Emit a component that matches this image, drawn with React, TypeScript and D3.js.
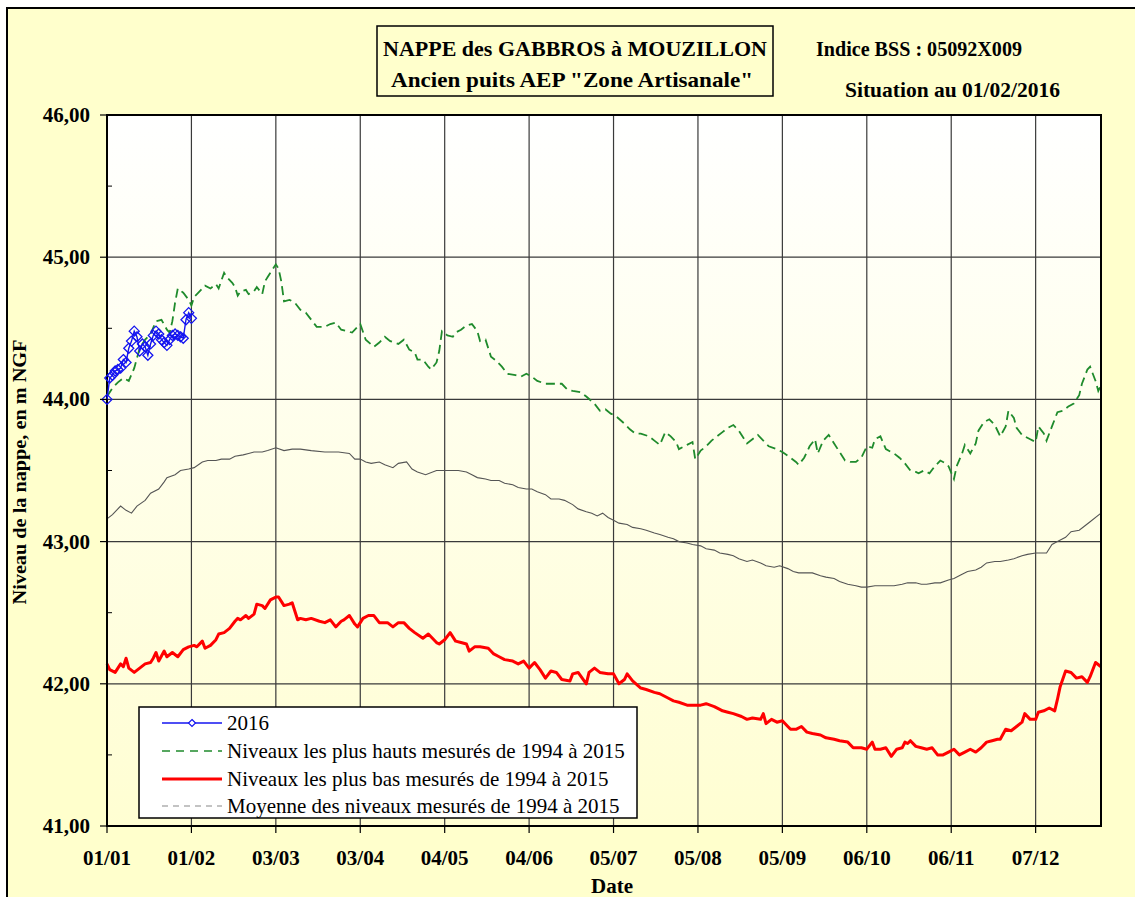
import React from "react";
import * as d3 from "d3";

// ---- DATA (day offset from 01/01/2016, level in m NGF) ----
const YEAR_START = new Date(2016, 0, 1);
const YEAR_END = new Date(2016, 11, 31);

const SERIES_2016: [number, number][] = [
  [0, 44.0], [1, 44.15], [2, 44.17], [3, 44.2], [4, 44.21], [5, 44.22], [6, 44.28], [7, 44.26],
  [8, 44.36], [9, 44.41], [10, 44.48], [11, 44.44], [12, 44.34], [13, 44.39], [14, 44.37], [15, 44.31],
  [16, 44.39], [17, 44.45], [18, 44.48], [19, 44.46], [20, 44.42], [21, 44.4], [22, 44.38], [23, 44.42],
  [24, 44.45], [25, 44.46], [26, 44.45], [27, 44.44], [28, 44.43], [29, 44.56], [30, 44.61], [31, 44.57],
];

const MAX_LEVELS: [number, number][] = [
  [0, 44.02], [2, 44.08], [4, 44.12], [6, 44.15], [8, 44.13], [10, 44.22], [12, 44.36], [14, 44.42],
  [16, 44.46], [18, 44.55], [20, 44.56], [22, 44.49], [23, 44.47], [24, 44.55], [25, 44.68], [26, 44.78],
  [28, 44.75], [30, 44.7], [31, 44.66], [32, 44.72], [34, 44.76], [36, 44.8], [38, 44.78], [40, 44.81],
  [41, 44.78], [43, 44.89], [44, 44.86], [46, 44.82], [47, 44.79], [48, 44.73], [49, 44.76], [51, 44.77],
  [52, 44.74], [54, 44.76], [55, 44.79], [57, 44.74], [58, 44.83], [59, 44.86], [60, 44.89], [62, 44.95],
  [63, 44.92], [64, 44.83], [65, 44.69], [67, 44.7], [69, 44.68], [71, 44.63], [73, 44.61], [75, 44.56],
  [77, 44.51], [80, 44.51], [82, 44.53], [84, 44.54], [86, 44.49], [88, 44.48], [90, 44.47], [93, 44.53],
  [95, 44.42], [98, 44.37], [100, 44.4], [102, 44.44], [104, 44.41], [107, 44.39], [109, 44.42], [111, 44.35],
  [113, 44.33], [114, 44.28], [116, 44.28], [118, 44.23], [119, 44.21], [121, 44.26], [122, 44.34], [123, 44.48],
  [125, 44.45], [127, 44.44], [128, 44.47], [130, 44.49], [132, 44.52], [134, 44.53], [136, 44.48], [137, 44.41],
  [139, 44.42], [141, 44.3], [143, 44.27], [145, 44.23], [147, 44.18], [150, 44.17], [152, 44.16], [154, 44.18],
  [156, 44.16], [158, 44.13], [161, 44.11], [164, 44.11], [167, 44.11], [169, 44.07], [171, 44.06], [174, 44.05],
  [176, 44.02], [179, 43.97], [181, 43.92], [183, 43.93], [185, 43.9], [187, 43.88], [190, 43.83], [192, 43.79],
  [194, 43.76], [196, 43.76], [199, 43.74], [201, 43.71], [203, 43.68], [205, 43.77], [207, 43.74], [209, 43.7],
  [210, 43.65], [213, 43.68], [215, 43.7], [216, 43.58], [218, 43.64], [220, 43.67], [222, 43.71], [224, 43.74],
  [226, 43.77], [228, 43.8], [230, 43.82], [232, 43.78], [234, 43.72], [235, 43.69], [237, 43.72], [239, 43.75],
  [241, 43.71], [243, 43.67], [246, 43.65], [248, 43.63], [251, 43.59], [253, 43.56], [254, 43.54], [256, 43.59],
  [258, 43.67], [260, 43.72], [261, 43.62], [263, 43.71], [265, 43.75], [267, 43.69], [269, 43.63], [271, 43.57],
  [273, 43.56], [275, 43.56], [277, 43.59], [279, 43.67], [281, 43.66], [282, 43.72], [284, 43.74], [286, 43.65],
  [289, 43.62], [291, 43.59], [293, 43.55], [295, 43.5], [297, 43.49], [298, 43.48], [300, 43.5], [302, 43.48],
  [304, 43.53], [306, 43.57], [308, 43.55], [309, 43.53], [311, 43.44], [312, 43.53], [314, 43.62], [315, 43.68],
  [317, 43.62], [319, 43.69], [320, 43.78], [322, 43.84], [324, 43.86], [326, 43.82], [328, 43.74], [330, 43.81],
  [331, 43.92], [333, 43.87], [334, 43.8], [336, 43.75], [339, 43.72], [341, 43.7], [342, 43.81], [344, 43.76],
  [345, 43.71], [347, 43.81], [349, 43.91], [351, 43.92], [353, 43.95], [355, 43.97], [357, 44.03], [358, 44.11],
  [360, 44.21], [361, 44.23], [363, 44.13], [364, 44.06], [365, 44.1],
];

const MIN_LEVELS: [number, number][] = [
  [0, 42.14], [1, 42.1], [3, 42.08], [5, 42.14], [6, 42.12], [7, 42.18], [8, 42.11], [10, 42.08],
  [12, 42.11], [14, 42.14], [16, 42.15], [17, 42.18], [18, 42.22], [19, 42.16], [21, 42.23], [22, 42.19],
  [24, 42.22], [26, 42.19], [28, 42.24], [30, 42.26], [32, 42.27], [33, 42.26], [35, 42.3], [36, 42.25],
  [38, 42.27], [40, 42.31], [41, 42.35], [43, 42.36], [45, 42.39], [47, 42.44], [48, 42.46], [49, 42.45],
  [51, 42.48], [52, 42.46], [54, 42.49], [55, 42.56], [57, 42.55], [58, 42.53], [60, 42.59], [62, 42.61],
  [63, 42.61], [65, 42.55], [67, 42.56], [68, 42.57], [70, 42.45], [71, 42.46], [73, 42.45], [75, 42.46],
  [78, 42.44], [80, 42.43], [82, 42.45], [84, 42.4], [86, 42.44], [87, 42.45], [89, 42.48], [91, 42.42],
  [92, 42.4], [94, 42.46], [96, 42.48], [98, 42.48], [100, 42.43], [103, 42.43], [105, 42.4], [107, 42.43],
  [109, 42.43], [111, 42.39], [113, 42.36], [116, 42.32], [118, 42.35], [121, 42.29], [122, 42.28], [124, 42.31],
  [126, 42.36], [128, 42.3], [130, 42.29], [132, 42.28], [133, 42.23], [135, 42.26], [137, 42.26], [140, 42.25],
  [142, 42.21], [144, 42.19], [146, 42.17], [149, 42.16], [151, 42.14], [153, 42.16], [155, 42.11], [157, 42.15],
  [159, 42.1], [161, 42.04], [163, 42.09], [165, 42.08], [167, 42.03], [170, 42.02], [171, 42.07], [173, 42.08],
  [176, 42.0], [177, 42.08], [179, 42.11], [181, 42.08], [184, 42.07], [186, 42.07], [188, 42.0], [190, 42.03],
  [191, 42.07], [193, 42.02], [196, 41.97], [198, 41.96], [201, 41.94], [203, 41.93], [206, 41.9], [208, 41.88],
  [210, 41.87], [213, 41.85], [215, 41.85], [218, 41.85], [220, 41.86], [223, 41.84], [225, 41.82], [226, 41.81],
  [228, 41.8], [230, 41.79], [233, 41.77], [235, 41.75], [237, 41.76], [240, 41.75], [241, 41.79], [242, 41.72],
  [244, 41.75], [246, 41.73], [248, 41.74], [250, 41.7], [251, 41.68], [253, 41.68], [255, 41.7], [257, 41.66],
  [259, 41.65], [262, 41.64], [264, 41.62], [267, 41.61], [269, 41.6], [272, 41.59], [274, 41.55], [277, 41.55],
  [279, 41.54], [281, 41.59], [282, 41.54], [284, 41.54], [286, 41.55], [288, 41.49], [290, 41.54], [292, 41.55],
  [293, 41.59], [294, 41.58], [295, 41.6], [297, 41.56], [299, 41.55], [301, 41.54], [303, 41.55], [305, 41.5],
  [307, 41.5], [309, 41.52], [311, 41.54], [313, 41.5], [315, 41.52], [317, 41.54], [319, 41.52], [321, 41.55],
  [323, 41.59], [325, 41.6], [327, 41.61], [328, 41.61], [330, 41.68], [332, 41.67], [334, 41.7], [336, 41.73],
  [337, 41.79], [339, 41.75], [341, 41.75], [342, 41.8], [344, 41.81], [346, 41.83], [348, 41.81], [349, 41.89],
  [350, 41.98], [352, 42.09], [354, 42.08], [356, 42.04], [358, 42.05], [360, 42.01], [361, 42.05], [363, 42.15],
  [365, 42.12],
];

const MEAN_LEVELS: [number, number][] = [
  [0, 43.16], [2, 43.19], [5, 43.25], [7, 43.22], [9, 43.2], [11, 43.25], [14, 43.29], [16, 43.34],
  [19, 43.37], [21, 43.42], [22, 43.45], [25, 43.47], [27, 43.5], [30, 43.51], [32, 43.52], [35, 43.56],
  [37, 43.57], [40, 43.57], [42, 43.58], [45, 43.58], [47, 43.6], [50, 43.61], [52, 43.62], [54, 43.63],
  [57, 43.63], [59, 43.64], [62, 43.66], [65, 43.64], [68, 43.65], [71, 43.65], [75, 43.64], [80, 43.63],
  [85, 43.63], [89, 43.62], [91, 43.58], [93, 43.58], [95, 43.56], [97, 43.55], [100, 43.56], [102, 43.54],
  [105, 43.52], [107, 43.55], [110, 43.56], [112, 43.51], [114, 43.49], [117, 43.47], [121, 43.5], [123, 43.5],
  [127, 43.5], [129, 43.5], [132, 43.49], [134, 43.47], [136, 43.45], [139, 43.44], [141, 43.43], [144, 43.43],
  [146, 43.41], [149, 43.4], [151, 43.38], [154, 43.37], [156, 43.37], [158, 43.35], [161, 43.33], [163, 43.3],
  [166, 43.3], [168, 43.29], [171, 43.26], [173, 43.23], [176, 43.21], [178, 43.2], [180, 43.18], [182, 43.2],
  [184, 43.17], [186, 43.15], [188, 43.13], [191, 43.12], [193, 43.1], [196, 43.09], [198, 43.08], [201, 43.06],
  [203, 43.05], [206, 43.03], [208, 43.02], [210, 43.0], [213, 42.99], [215, 42.98], [218, 42.97], [220, 42.95],
  [223, 42.94], [225, 42.92], [228, 42.91], [230, 42.9], [232, 42.88], [235, 42.86], [237, 42.87], [240, 42.85],
  [242, 42.83], [245, 42.82], [247, 42.83], [250, 42.81], [252, 42.79], [254, 42.78], [257, 42.78], [259, 42.78],
  [262, 42.76], [264, 42.75], [267, 42.74], [269, 42.72], [272, 42.7], [275, 42.69], [277, 42.68], [279, 42.68],
  [282, 42.69], [284, 42.69], [287, 42.69], [289, 42.69], [292, 42.7], [294, 42.71], [297, 42.71], [299, 42.7],
  [301, 42.7], [304, 42.71], [306, 42.71], [309, 42.73], [311, 42.74], [314, 42.77], [316, 42.79], [319, 42.8],
  [321, 42.82], [323, 42.85], [326, 42.86], [328, 42.86], [331, 42.87], [333, 42.88], [336, 42.9], [338, 42.91],
  [341, 42.92], [343, 42.92], [345, 42.92], [347, 42.98], [349, 43.0], [352, 43.03], [354, 43.07], [357, 43.08],
  [359, 43.11], [361, 43.14], [365, 43.2],
];

const Y_TICKS = [41, 42, 43, 44, 45, 46];
const Y_MINOR_TICKS = [41.5, 42.5, 43.5, 44.5, 45.5];
const X_TICK_STEP_DAYS = 31;
const X_TICK_COUNT = 12;

const TITLE_LINE_1 = "NAPPE des GABBROS à MOUZILLON";
const TITLE_LINE_2 = 'Ancien puits AEP "Zone Artisanale"';
const BSS_TEXT = "Indice BSS : 05092X009";
const SITUATION_TEXT = "Situation au 01/02/2016";
const Y_LABEL = "Niveau de la nappe, en m NGF";
const X_LABEL = "Date";
const LEGEND_LABELS = [
  "2016",
  "Niveaux les plus hauts mesurés de 1994 à 2015",
  "Niveaux les plus bas mesurés de 1994 à 2015",
  "Moyenne des niveaux mesurés de 1994 à 2015",
];

// ---- LAYOUT ----
const W = 1135;
const H = 897;
const PL = 107, PR = 1101, PT = 115, PB = 826;
const FONT = "'Liberation Serif', 'Times New Roman', serif";
const BG = "#FFFFCC";

export default function App() {
  const day = (d: number) => d3.timeDay.offset(YEAR_START, d);
  const x = d3.scaleTime().domain([YEAR_START, YEAR_END]).range([PL, PR]);
  const y = d3.scaleLinear().domain([41, 46]).range([PB, PT]);

  const line = d3
    .line<[number, number]>()
    .x((p) => x(day(p[0])))
    .y((p) => y(p[1]));

  const xTicks = d3.range(X_TICK_COUNT).map((i) => day(i * X_TICK_STEP_DAYS));
  const fmt = d3.timeFormat("%d/%m");
  const fmtY = (v: number) => v.toFixed(2).replace(".", ",");

  const diamond = (cx: number, cy: number, r: number) =>
    `M${cx},${cy - r}L${cx + r},${cy}L${cx},${cy + r}L${cx - r},${cy}Z`;

  const legendRows = [723, 751, 779, 806];

  return (
    <svg
      width={W}
      height={H}
      style={{ position: "absolute", left: 0, top: 0, display: "block" }}
      fontFamily={FONT}
    >
      <defs>
        <linearGradient id="plotGrad" x1="0" y1="0" x2="0" y2="1">
          <stop offset="0" stopColor="#FFFFFF" />
          <stop offset="1" stopColor="#FFFED2" />
        </linearGradient>
        <clipPath id="plotClip">
          <rect x={PL - 6} y={PT} width={PR - PL + 6} height={PB - PT} />
        </clipPath>
      </defs>
      <rect x={0} y={0} width={W} height={H} fill="#FFFFFF" />
      <rect x={7} y={8} width={W + 20} height={H + 20} fill={BG} stroke="#000" strokeWidth={2} />

      {/* Title box */}
      <rect x={377} y={26} width={396} height={70} fill={BG} stroke="#000" strokeWidth={1.5} />
      <text x={575} y={56} textAnchor="middle" fontWeight="bold" fontSize={21} textLength={384} lengthAdjust="spacingAndGlyphs">
        {TITLE_LINE_1}
      </text>
      <text x={572} y={87} textAnchor="middle" fontWeight="bold" fontSize={21} textLength={362} lengthAdjust="spacingAndGlyphs">
        {TITLE_LINE_2}
      </text>
      <text x={816} y={56} fontWeight="bold" fontSize={21} textLength={206} lengthAdjust="spacingAndGlyphs">
        {BSS_TEXT}
      </text>
      <text x={845} y={97} fontWeight="bold" fontSize={21} textLength={215} lengthAdjust="spacingAndGlyphs">
        {SITUATION_TEXT}
      </text>

      {/* Plot area */}
      <rect x={PL} y={PT} width={PR - PL} height={PB - PT} fill="url(#plotGrad)" />

      {/* grid */}
      {Y_TICKS.map((t) => (
        <line key={"gy" + t} x1={PL} x2={PR} y1={y(t)} y2={y(t)} stroke="#3a3a3a" strokeWidth={1.2} />
      ))}
      {xTicks.map((t, i) => (
        <line key={"gx" + i} x1={x(t)} x2={x(t)} y1={PT} y2={PB} stroke="#3a3a3a" strokeWidth={1.2} />
      ))}

      {/* series */}
      <g clipPath="url(#plotClip)">
        <path d={line(MEAN_LEVELS) || ""} fill="none" stroke="#555" strokeWidth={1.1} />
        <path d={line(MIN_LEVELS) || ""} fill="none" stroke="#FF0000" strokeWidth={3} strokeLinejoin="round" />
        <path d={line(MAX_LEVELS) || ""} fill="none" stroke="#1F8B2C" strokeWidth={1.8} strokeDasharray="9,5" />
      </g>

      {/* plot frame */}
      <rect x={PL} y={PT} width={PR - PL} height={PB - PT} fill="none" stroke="#000" strokeWidth={2} />

      <g clipPath="url(#plotClip)">
        <path d={line(SERIES_2016) || ""} fill="none" stroke="#1414F0" strokeWidth={1.4} />
        {SERIES_2016.map((p, i) => (
          <path key={"m" + i} d={diamond(x(day(p[0])), y(p[1]), 5)} fill="none" stroke="#1414F0" strokeWidth={1.3} />
        ))}
      </g>

      {/* y axis ticks */}
      {Y_TICKS.map((t) => (
        <g key={"yt" + t}>
          <line x1={PL - 7} x2={PL} y1={y(t)} y2={y(t)} stroke="#000" strokeWidth={1.2} />
          <text x={90} y={y(t) + 7} textAnchor="end" fontWeight="bold" fontSize={21}>
            {fmtY(t)}
          </text>
        </g>
      ))}
      {Y_MINOR_TICKS.map((t) => (
        <line key={"ym" + t} x1={PL} x2={PL + 5} y1={y(t)} y2={y(t)} stroke="#000" strokeWidth={1} />
      ))}

      {/* x axis ticks */}
      {xTicks.map((t, i) => (
        <g key={"xt" + i}>
          <line x1={x(t)} x2={x(t)} y1={PB} y2={PB + 7} stroke="#000" strokeWidth={1.2} />
          <text x={x(t)} y={865} textAnchor="middle" fontWeight="bold" fontSize={21}>
            {fmt(t)}
          </text>
        </g>
      ))}

      <text x={612} y={893} textAnchor="middle" fontWeight="bold" fontSize={21}>
        {X_LABEL}
      </text>
      <text
        transform="translate(26,472) rotate(-90)"
        textAnchor="middle"
        fontWeight="bold"
        fontSize={19}
        textLength={265}
        lengthAdjust="spacingAndGlyphs"
      >
        {Y_LABEL}
      </text>

      {/* legend */}
      <rect x={139} y={707} width={498} height={111} fill="#FFFFFF" stroke="#000" strokeWidth={1.5} />
      <line x1={162} x2={222} y1={legendRows[0]} y2={legendRows[0]} stroke="#1414F0" strokeWidth={1.4} />
      <path d={diamond(192, legendRows[0], 3.5)} fill="#FFFFFF" stroke="#1414F0" strokeWidth={1.2} />
      <line x1={162} x2={222} y1={legendRows[1]} y2={legendRows[1]} stroke="#1F8B2C" strokeWidth={1.5} strokeDasharray="8,6" />
      <line x1={162} x2={222} y1={legendRows[2]} y2={legendRows[2]} stroke="#FF0000" strokeWidth={3} />
      <line x1={162} x2={222} y1={legendRows[3]} y2={legendRows[3]} stroke="#888" strokeWidth={1.2} strokeDasharray="6,5" />
      {LEGEND_LABELS.map((l, i) => (
        <text key={"lg" + i} x={227} y={legendRows[i] + 7} fontSize={21}>
          {l}
        </text>
      ))}
    </svg>
  );
}
